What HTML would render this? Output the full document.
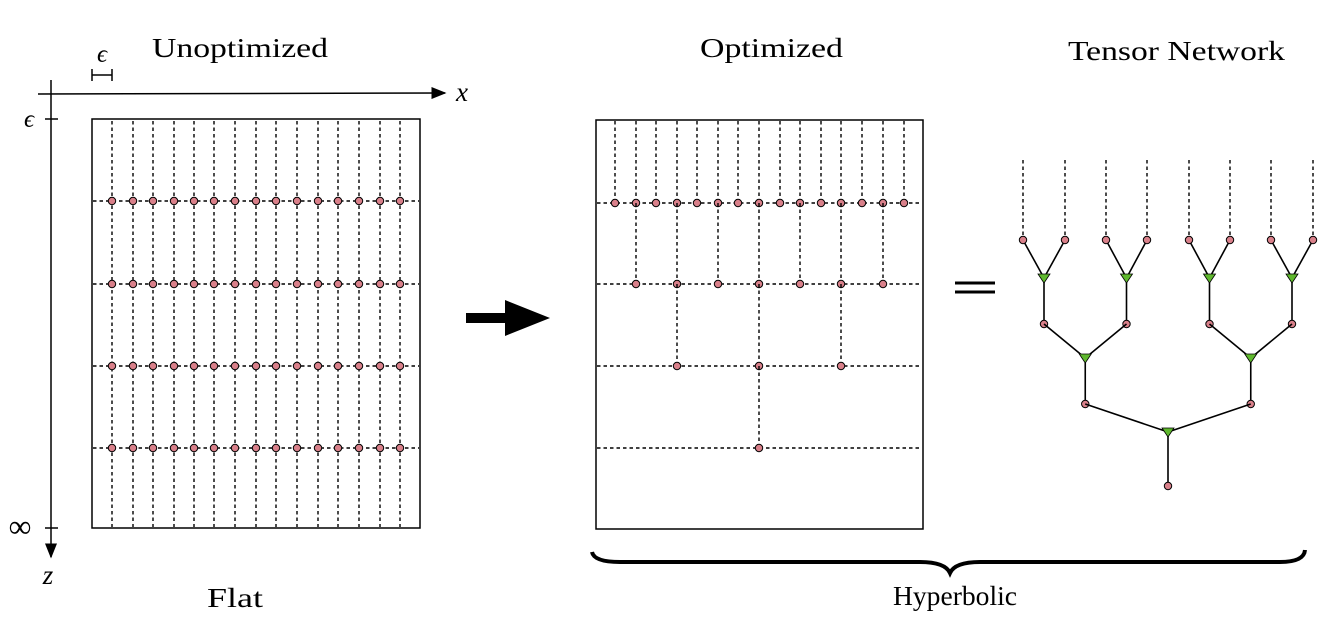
<!DOCTYPE html>
<html><head><meta charset="utf-8"><style>
html,body{margin:0;padding:0;background:#fff;width:1328px;height:634px;overflow:hidden}
svg{display:block}
text{font-family:"Liberation Serif",serif;fill:#000}
</style></head><body>
<svg id="fig" width="1328" height="634" viewBox="0 0 1328 634">
<defs><marker id="ah" markerWidth="10" markerHeight="8" refX="9" refY="4" orient="auto"><path d="M0,0 L10,4 L0,8 z" fill="#000"/></marker></defs>
<text x="152" y="57" font-size="27" textLength="176" lengthAdjust="spacingAndGlyphs">Unoptimized</text>
<text x="700" y="57" font-size="27" textLength="143" lengthAdjust="spacingAndGlyphs">Optimized</text>
<text x="1068" y="60" font-size="27" textLength="217" lengthAdjust="spacingAndGlyphs">Tensor Network</text>
<text x="207" y="607" font-size="27" textLength="56" lengthAdjust="spacingAndGlyphs">Flat</text>
<text x="893" y="605" font-size="27" textLength="124" lengthAdjust="spacingAndGlyphs">Hyperbolic</text>
<g stroke="#000" stroke-width="1.5">
<line x1="38" y1="94" x2="445" y2="93" marker-end="url(#ah)"/>
<line x1="51" y1="80" x2="51" y2="557" marker-end="url(#ah)"/>
<line x1="45" y1="119" x2="58" y2="119"/>
<line x1="45" y1="528" x2="58" y2="528"/>
<line x1="92" y1="75" x2="112" y2="75"/><line x1="92" y1="69" x2="92" y2="81"/><line x1="112" y1="69" x2="112" y2="81"/>
</g>
<text x="462" y="101" font-size="27" font-style="italic" text-anchor="middle">x</text>
<text x="48" y="584" font-size="27" font-style="italic" text-anchor="middle">z</text>
<text x="29" y="127" font-size="25" font-style="italic" text-anchor="middle">ϵ</text>
<text x="102" y="62" font-size="25" font-style="italic" text-anchor="middle">ϵ</text>
<text x="20" y="537" font-size="32" text-anchor="middle">∞</text>
<rect x="92" y="119" width="328" height="409" fill="none" stroke="#000" stroke-width="1.5"/>
<rect x="596" y="120" width="327" height="409" fill="none" stroke="#000" stroke-width="1.5"/>
<path d="M466,313 L505,313 L505,300 L550,318 L505,336 L505,323 L466,323 z" fill="#000"/>
<g stroke="#000" stroke-width="3"><line x1="955" y1="283" x2="995" y2="283"/><line x1="955" y1="292" x2="995" y2="292"/></g>
<path d="M592,552 Q594,562 620,562 L920,562 Q945,562 950,573 Q955,562 980,562 L1280,562 Q1304,562 1305,550" fill="none" stroke="#000" stroke-width="4"/>
<g id="marks"></g>
</svg>
<script>
const flatCols=[112,133,153,174,194,214,235,256,276,297,318,338,359,380,400];
const flatRows=[201,284,366,448];
const optCols=[615,636,656,677,697,718,738,759,780,800,821,841,862,883,904];
const optRows=[203,284,366,448];
const optDotIdx=[[0,1,2,3,4,5,6,7,8,9,10,11,12,13,14],[1,3,5,7,9,11,13],[3,7,11],[7]];
const leafX=[1023,1065,1106,1147,1189,1230,1271,1313];
const treeLevelsY=[240,278,324,358,404,432,486];
const NS="http://www.w3.org/2000/svg";
const g=document.getElementById('marks');
function mk(t,a,name){const e=document.createElementNS(NS,t);for(const k in a)e.setAttribute(k,a[k]);


g.appendChild(e);return e;}
function dash(x1,y1,x2,y2,n){mk('line',{x1,y1,x2,y2,stroke:'#000','stroke-width':1.4,'stroke-dasharray':'3.5,3'},n);}
function solid(x1,y1,x2,y2,n){mk('line',{x1,y1,x2,y2,stroke:'#000','stroke-width':1.6},n);}
function dot(x,y,n){mk('circle',{cx:x,cy:y,r:3.7,fill:'#d9808a',stroke:'#000','stroke-width':1},n);}
function tri(x,y,n){mk('path',{d:`M${x-6},${y-4} L${x+6},${y-4} L${x},${y+5} z`,fill:'#5fb82e',stroke:'#000','stroke-width':0.8},n);}
flatCols.forEach(x=>dash(x,121,x,527,'flat-column'));
flatRows.forEach(y=>{dash(93,y,419,y,'flat-row');flatCols.forEach(x=>dot(x,y,'flat-node'));});
optCols.forEach(x=>dash(x,121,x,optRows[0],'opt-top-leg'));
optRows.forEach((y,i)=>{dash(597,y,922,y,'opt-row');
 optDotIdx[i].forEach(j=>{const x=optCols[j];
  if(i>0)dash(x,optRows[i-1],x,y,'opt-leg');
  dot(x,y,'opt-node');});});
const Y=treeLevelsY;
leafX.forEach(x=>dash(x,160,x,Y[0]-4,'tree-leg'));
let lvl=leafX.slice();
const tris=[[Y[0],Y[1],Y[2]],[Y[2],Y[3],Y[4]],[Y[4],Y[5],Y[6]]];
tris.forEach(([py,ty,dy])=>{const next=[];
 for(let i=0;i<lvl.length;i+=2){const x=(lvl[i]+lvl[i+1])/2;
  solid(lvl[i],py,x,ty,'tree-edge');
  solid(lvl[i+1],py,x,ty,'tree-edge');
  solid(x,ty,x,dy,'tree-edge');next.push(x);}
 next.forEach(x=>{tri(x,ty,'isometry');dot(x,dy,'tree-node');});
 lvl=next;});
leafX.forEach(x=>dot(x,Y[0],'tree-leaf'));
</script>
</body></html>
